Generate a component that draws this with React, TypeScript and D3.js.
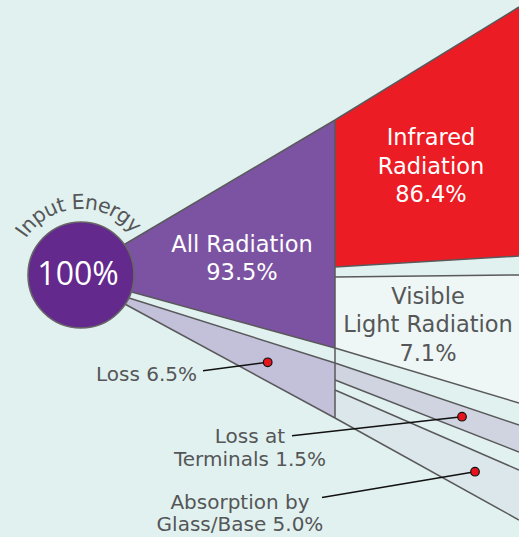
import React from "react";
import * as d3 from "d3";

// flow values (percent of input energy)
const inputLabel = "Input Energy";
const inputValue = 100;

const splitNames = ["All Radiation", "Loss"];
const splitValues = [93.5, 6.5];

const outNames = ["Infrared Radiation", "Visible Light Radiation", "Loss at Terminals", "Absorption by Glass/Base"];
const outValues = [86.4, 7.1, 1.5, 5.0];
const outParent = [0, 0, 1, 1];

const W = 519;
const H = 537;
const FONT = "'DejaVu Sans', sans-serif";
const GREY = "#555658";
const EDGE = "#59595b";

const splitFill = ["#7c53a2", "#c3c0da"];
const outFill = ["#ec1c24", "#eef7f5", "#cfd4e0", "#dce7eb"];

const splitCum = [0, ...d3.cumsum(splitValues)];
const outCum = [0, ...d3.cumsum(outValues)];

// three stages: inside the circle, split line, right border
const stageX = d3.scaleLinear().domain([0, 1, 2]).range([110, 335, W]);
const stageY = [
  d3.scaleLinear().domain(splitCum).range([253, 286, 290]),
  d3.scaleLinear().domain(outCum).range([120, 267, 338, 355, 383]),
  d3.scaleLinear().domain(outCum).range([7, 256, 384, 411, 461]),
];
const stageGaps = [[6], [10, 15, 10], [19, 22, 18]];

function edge(stage: number, cum: number, gapCount: number) {
  return stageY[stage](cum) + d3.sum(stageGaps[stage].slice(0, gapCount));
}

type Pt = { x: number; y0: number; y1: number };

const splitBands: Pt[][] = splitValues.map((_v, i) => {
  const kids = outParent.map((p, j) => (p === i ? j : -1)).filter((j) => j >= 0);
  const fc = kids[0];
  const lc = kids[kids.length - 1];
  return [
    { x: stageX(0), y0: edge(0, splitCum[i], i), y1: edge(0, splitCum[i + 1], i) },
    { x: stageX(1), y0: edge(1, splitCum[i], fc), y1: edge(1, splitCum[i + 1], lc) },
  ];
});

const outBands: Pt[][] = outValues.map((_v, j) =>
  [1, 2].map((s) => ({ x: stageX(s), y0: edge(s, outCum[j], j), y1: edge(s, outCum[j + 1], j) }))
);

const area = d3.area<Pt>().x((d) => d.x).y0((d) => d.y0).y1((d) => d.y1);
const topLine = d3.line<Pt>().x((d) => d.x).y((d) => d.y0);
const botLine = d3.line<Pt>().x((d) => d.x).y((d) => d.y1);

const pct = (v: number) => `${v.toFixed(1)}%`;

// label text lines
const labels = [
  { lines: ["All Radiation", pct(splitValues[0])], x: 242, y: 251.5, dy: 28.5, fill: "#fff", size: 22.5, anchor: "middle" },
  { lines: ["Infrared", "Radiation", pct(outValues[0])], x: 431, y: 145, dy: 28.7, fill: "#fff", size: 22.5, anchor: "middle" },
  { lines: ["Visible", "Light Radiation", pct(outValues[1])], x: 428, y: 303.5, dy: 28.7, fill: GREY, size: 22.5, anchor: "middle" },
  { lines: [`${splitNames[1]} ${pct(splitValues[1])}`], x: 197, y: 381, dy: 0, fill: GREY, size: 20, anchor: "end" },
  { lines: ["Loss at", `Terminals ${pct(outValues[2])}`], x: 250, y: 443, dy: 23.3, fill: GREY, size: 20, anchor: "middle" },
  { lines: ["Absorption by", `Glass/Base ${pct(outValues[3])}`], x: 240, y: 508.5, dy: 22.5, fill: GREY, size: 20, anchor: "middle" },
];

const leaders = [
  { from: [203, 370.7], to: [267.7, 362.3] },
  { from: [292, 435.7], to: [462, 416.7] },
  { from: [322, 497.5], to: [475, 471.7] },
];

const circle = { cx: 81, cy: 275, r: 53 };

export default function App() {
  const arcR = 66;
  const p = d3.path();
  p.moveTo(circle.cx - arcR, circle.cy);
  p.arc(circle.cx, circle.cy, arcR, Math.PI, 2 * Math.PI);

  const split0 = splitBands[0][1];
  const splitLast = splitBands[splitBands.length - 1][1];

  return (
    <svg
      width={W}
      height={H}
      style={{ position: "absolute", left: 0, top: 0, display: "block" }}
      fontFamily={FONT}
    >
      <rect width={W} height={H} fill="#e1f1ef" />

      {outBands.map((b, j) => (
        <path key={"of" + j} d={area(b) || ""} fill={outFill[j]} />
      ))}
      {splitBands.map((b, i) => (
        <path key={"sf" + i} d={area(b) || ""} fill={splitFill[i]} />
      ))}

      <g fill="none" stroke={EDGE} strokeWidth={1.5}>
        {[...splitBands, ...outBands].map((b, i) => (
          <g key={"e" + i}>
            <path d={topLine(b) || ""} />
            <path d={botLine(b) || ""} />
          </g>
        ))}
        <line x1={split0.x} x2={split0.x} y1={split0.y0} y2={splitLast.y1} />
      </g>

      <circle cx={circle.cx} cy={circle.cy} r={circle.r} fill="#63298d" stroke="#666" strokeWidth={1.6} />
      <text x={78} y={284.5} fill="#fff" fontSize={32} textAnchor="middle" fontFamily="'Open Sans', sans-serif">
        {`${inputValue}%`}
      </text>
      <path id="inputArc" d={p.toString()} fill="none" />
      <text fontSize={20.5} fill={GREY} letterSpacing={-0.6}>
        <textPath href="#inputArc" startOffset="48.5%" textAnchor="middle">
          {inputLabel}
        </textPath>
      </text>

      {labels.map((l, i) => (
        <text key={"l" + i} x={l.x} y={l.y} fill={l.fill} fontSize={l.size} textAnchor={l.anchor}>
          {l.lines.map((t, k) => (
            <tspan key={k} x={l.x} y={l.y + k * l.dy}>
              {t}
            </tspan>
          ))}
        </text>
      ))}

      {leaders.map((d, i) => (
        <g key={"ld" + i}>
          <line x1={d.from[0]} y1={d.from[1]} x2={d.to[0]} y2={d.to[1]} stroke="#111" strokeWidth={1.4} />
          <circle cx={d.to[0]} cy={d.to[1]} r={4.3} fill="#e8141c" stroke="#111" strokeWidth={1.2} />
        </g>
      ))}
    </svg>
  );
}
